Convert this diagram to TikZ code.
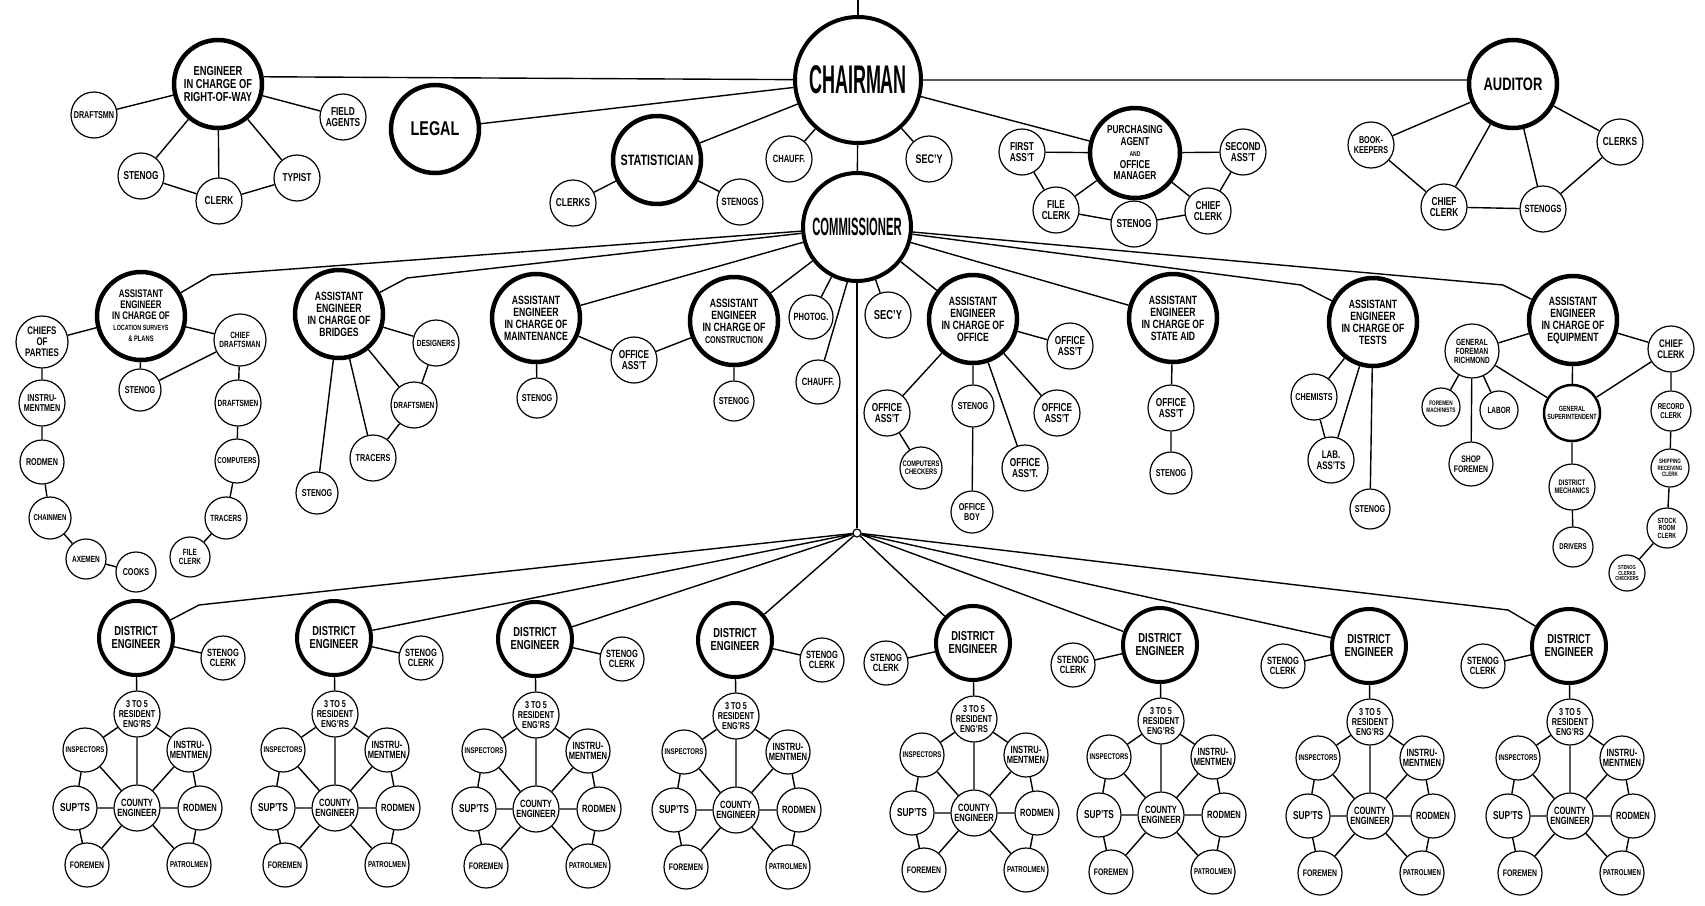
\documentclass[tikz,border=0pt]{standalone}
\usepackage{fontspec}
\setmainfont{Liberation Sans}[FakeStretch=0.72]
\newfontfamily\tallfont{Liberation Sans}[FakeStretch=0.45]
\newcommand\fs[1]{\bfseries\fontsize{#1}{#1}\selectfont}

\begin{document}
\begin{tikzpicture}[
  x=1pt, y=-1pt,
  unit/.style={circle, draw, fill=white, line width=1.2pt, inner sep=0pt, align=center, minimum size=#1, font=\fs{10}},
  unit/.default=44pt,
  upper/.style={unit=46pt, font=\fs{11.5}},
  lower/.style={unit=#1, font=\fs{10}},
  lower/.default=44pt,
  chief/.style={circle, draw, fill=white, line width=4.5pt, inner sep=0pt, align=center, minimum size=#1, font=\fs{12}},
  chief/.default=88pt,
  dist/.style={circle, draw, fill=white, line width=4pt, inner sep=0pt, align=center, minimum size=74pt, font=\fs{13}},
  head/.style={circle, draw, fill=white, line width=4pt, inner sep=0pt, minimum size=#1, font=\tallfont\bfseries},
  link/.style={line width=1.4pt}
]
  \useasboundingbox (0,0) rectangle (1705,905);
  \fill[white] (0,0) rectangle (1705,905);

  % Chairman and his staff
  \coordinate (top) at (858,0);
  \node[head=126pt, font=\tallfont\fs{40}] (chair) at (858,80) {CHAIRMAN};
  \node[chief, font=\fs{13}] (row) at (218,84) {ENGINEER\\IN CHARGE OF\\RIGHT-OF-WAY};
  \node[upper, font=\fs{10}] (row_draft) at (94,115) {DRAFTSMN};
  \node[upper] (row_field) at (343,117) {FIELD\\AGENTS};
  \node[upper] (row_stenog) at (141,176) {STENOG};
  \node[upper] (row_clerk) at (219,201) {CLERK};
  \node[upper] (row_typist) at (297,178) {TYPIST};
  \node[chief, font=\fs{20}] (legal) at (435,129) {LEGAL};
  \node[chief, font=\fs{15}] (stat) at (657,160) {STATISTICIAN};
  \node[upper] (stat_clerks) at (573,203) {CLERKS};
  \node[upper, font=\fs{10.5}] (stat_stenogs) at (740,202) {STENOGS};
  \node[upper, font=\fs{10.5}] (chauff) at (789,159) {CHAUFF.};
  \node[upper, font=\fs{12.5}] (secy) at (929,159) {SEC'Y};
  \node[chief=90pt, font=\fs{11.5}] (purch) at (1135,153) {PURCHASING\\AGENT\\{\fs{7}AND}\\OFFICE\\MANAGER};
  \node[upper] (purch_first) at (1022,152) {FIRST\\ASS'T};
  \node[upper] (purch_second) at (1243,152) {SECOND\\ASS'T};
  \node[upper] (purch_file) at (1056,210) {FILE\\CLERK};
  \node[upper] (purch_stenog) at (1134,224) {STENOG};
  \node[upper] (purch_chief) at (1208,211) {CHIEF\\CLERK};
  \node[chief, font=\fs{18}] (aud) at (1513,84) {AUDITOR};
  \node[upper, font=\fs{10}] (aud_book) at (1371,145) {BOOK-\\KEEPERS};
  \node[upper] (aud_clerks) at (1620,142) {CLERKS};
  \node[upper] (aud_chief) at (1444,207) {CHIEF\\CLERK};
  \node[upper, font=\fs{10.5}] (aud_stenogs) at (1543,209) {STENOGS};
  \node[head=108pt, font=\tallfont\fs{25}] (comm) at (857,227) {COMMISSIONER};

  % Assistant engineers
  \node[chief, font=\fs{11}] (loc) at (141,316) {ASSISTANT\\ENGINEER\\IN CHARGE OF\\{\fs{7.5}LOCATION SURVEYS}\\{\fs{8}\& PLANS}};
  \node[unit=52pt, font=\fs{11}] (loc_chiefs) at (42,342) {CHIEFS\\OF\\PARTIES};
  \node[unit=52pt, font=\fs{9}] (loc_chiefdraft) at (240,340) {CHIEF\\DRAFTSMAN};
  \node[unit=42pt] (loc_stenog) at (140,390) {STENOG};
  \node[unit=46pt] (loc_instr) at (42,403) {INSTRU-\\MENTMEN};
  \node[unit] (loc_rod) at (42,462) {RODMEN};
  \node[unit=42pt, font=\fs{8.5}] (loc_chain) at (50,518) {CHAINMEN};
  \node[unit=40pt, font=\fs{9}] (loc_axe) at (86,559) {AXEMEN};
  \node[unit=40pt] (loc_cooks) at (136,572) {COOKS};
  \node[unit=46pt, font=\fs{9}] (loc_draftsmen) at (238,403) {DRAFTSMEN};
  \node[unit, font=\fs{8.5}] (loc_comp) at (237,461) {COMPUTERS};
  \node[unit=42pt, font=\fs{9}] (loc_tracers) at (226,518) {TRACERS};
  \node[unit=40pt, font=\fs{9}] (loc_file) at (190,557) {FILE\\CLERK};

  \node[chief] (bridges) at (339,314) {ASSISTANT\\ENGINEER\\IN CHARGE OF\\BRIDGES};
  \node[unit=46pt, font=\fs{9}] (br_design) at (436,343) {DESIGNERS};
  \node[unit=46pt, font=\fs{9}] (br_draft) at (414,405) {DRAFTSMEN};
  \node[unit=46pt] (br_tracers) at (373,458) {TRACERS};
  \node[unit=42pt] (br_stenog) at (317,493) {STENOG};

  \node[chief] (maint) at (536,318) {ASSISTANT\\ENGINEER\\IN CHARGE OF\\MAINTENANCE};
  \node[unit=40pt] (maint_stenog) at (537,398) {STENOG};
  \node[unit=46pt, font=\fs{11.5}] (maint_asst) at (634,360) {OFFICE\\ASS'T};
  \node[chief] (constr) at (734,321) {ASSISTANT\\ENGINEER\\IN CHARGE OF\\{\fs{10}CONSTRUCTION}};
  \node[unit=40pt] (constr_stenog) at (734,401) {STENOG};
  \node[unit, font=\fs{10.5}] (photog) at (811,317) {PHOTOG.};
  \node[unit, font=\fs{10.5}] (chauff_b) at (818,382) {CHAUFF.};
  \node[unit=46pt, font=\fs{13}] (secy_b) at (888,315) {SEC'Y};

  \node[chief] (office) at (973,319) {ASSISTANT\\ENGINEER\\IN CHARGE OF\\OFFICE};
  \node[unit=46pt, font=\fs{11.5}] (off_asst_a) at (1070,346) {OFFICE\\ASS'T};
  \node[unit=46pt, font=\fs{11.5}] (off_asst_b) at (887,413) {OFFICE\\ASS'T};
  \node[unit=42pt] (off_stenog) at (973,406) {STENOG};
  \node[unit=46pt, font=\fs{11.5}] (off_asst_c) at (1057,413) {OFFICE\\ASS'T};
  \node[unit=42pt, font=\fs{8}] (off_comp) at (921,468) {COMPUTERS\\CHECKERS};
  \node[unit=46pt, font=\fs{11.5}] (off_asst_d) at (1025,468) {OFFICE\\ASS'T.};
  \node[unit=42pt] (off_boy) at (972,512) {OFFICE\\BOY};

  \node[chief] (state) at (1173,318) {ASSISTANT\\ENGINEER\\IN CHARGE OF\\STATE AID};
  \node[unit=46pt, font=\fs{11.5}] (state_asst) at (1171,408) {OFFICE\\ASS'T};
  \node[unit=42pt] (state_stenog) at (1171,473) {STENOG};

  \node[chief] (tests) at (1373,322) {ASSISTANT\\ENGINEER\\IN CHARGE OF\\TESTS};
  \node[unit=46pt] (tests_chem) at (1314,397) {CHEMISTS};
  \node[unit=46pt, font=\fs{11}] (tests_lab) at (1331,460) {LAB.\\ASS'TS};
  \node[unit=40pt] (tests_stenog) at (1370,509) {STENOG};

  \node[chief] (equip) at (1573,320) {ASSISTANT\\ENGINEER\\IN CHARGE OF\\EQUIPMENT};
  \node[unit=54pt, font=\fs{9}] (eq_foreman) at (1472,351) {GENERAL\\FOREMAN\\RICHMOND};
  \node[unit=46pt, font=\fs{11}] (eq_chief) at (1671,349) {CHIEF\\CLERK};
  \node[unit=38pt, font=\fs{6.5}] (eq_mach) at (1441,407) {FOREMEN\\MACHINISTS};
  \node[unit=38pt, font=\fs{9}] (eq_labor) at (1499,410) {LABOR};
  \node[unit=44pt, font=\fs{9.5}] (eq_shop) at (1471,464) {SHOP\\FOREMEN};
  \node[unit=56pt, line width=2.5pt, font=\fs{7.5}] (eq_supt) at (1572,413) {GENERAL\\SUPERINTENDENT};
  \node[unit=40pt, font=\fs{8.5}] (eq_record) at (1671,411) {RECORD\\CLERK};
  \node[unit=46pt, font=\fs{8}] (eq_mech) at (1572,487) {DISTRICT\\MECHANICS};
  \node[unit=40pt, font=\fs{8.5}] (eq_drivers) at (1573,547) {DRIVERS};
  \node[unit=38pt, font=\fs{6.3}] (eq_ship) at (1670,468) {SHIPPING\\RECEIVING\\CLERK};
  \node[unit=40pt, font=\fs{7.5}] (eq_stock) at (1667,528) {STOCK\\ROOM\\CLERK};
  \node[unit=36pt, font=\fs{5.8}] (eq_stenog) at (1627,573) {STENOG\\CLERKS\\CHECKERS};

  % Districts
  \node[circle, draw, fill=white, line width=1.2pt, inner sep=0pt, minimum size=8pt] (hub) at (857,533) {};
  \foreach \grp/\px/\py/\cx in {1/136/638/223, 2/334/638/421, 3/535/639/622, 4/735/640/822,
                               5/973/643/886, 6/1160/645/1073, 7/1369/646/1283, 8/1569/646/1483}{
    \node[dist] (de\grp) at (\px,\py) {DISTRICT\\ENGINEER};
    \node[lower, font=\fs{10.5}] (de\grp_clerk) at (\cx,\py+20) {STENOG\\CLERK};
    \node[lower=46pt] (de\grp_res) at (\px+1,\py+76) {3 TO 5\\RESIDENT\\ENG'RS};
    \node[lower, font=\fs{8.3}] (de\grp_insp) at (\px-51,\py+112) {INSPECTORS};
    \node[lower, font=\fs{10.5}] (de\grp_instr) at (\px+53,\py+112) {INSTRU-\\MENTMEN};
    \node[lower, font=\fs{11.5}] (de\grp_supts) at (\px-61,\py+170) {SUP'TS};
    \node[lower=46pt, font=\fs{10.5}] (de\grp_county) at (\px+1,\py+170) {COUNTY\\ENGINEER};
    \node[lower, font=\fs{10.5}] (de\grp_rod) at (\px+64,\py+170) {RODMEN};
    \node[lower, font=\fs{9.5}] (de\grp_fore) at (\px-49,\py+227) {FOREMEN};
    \node[lower, font=\fs{8.5}] (de\grp_patrol) at (\px+53,\py+227) {PATROLMEN};
    \draw[link] (de\grp) -- (de\grp_clerk) (de\grp) -- (de\grp_res)
      (de\grp_res) -- (de\grp_insp) (de\grp_res) -- (de\grp_instr) (de\grp_res) -- (de\grp_county)
      (de\grp_insp) -- (de\grp_supts) (de\grp_insp) -- (de\grp_county)
      (de\grp_instr) -- (de\grp_county) (de\grp_instr) -- (de\grp_rod)
      (de\grp_supts) -- (de\grp_county) (de\grp_county) -- (de\grp_rod)
      (de\grp_supts) -- (de\grp_fore) (de\grp_fore) -- (de\grp_county)
      (de\grp_county) -- (de\grp_patrol) (de\grp_rod) -- (de\grp_patrol);
  }

  % Bends of the long connectors
  \coordinate (bend_loc) at (211,275);
  \coordinate (bend_br) at (407,278);
  \coordinate (bend_tests) at (1301,285);
  \coordinate (bend_equip) at (1503,285);
  \coordinate (bend_de1) at (199,605);
  \coordinate (bend_de8) at (1508,610);

  % Chairman connectors
  \draw[link] (top) -- (chair);
  \draw[link] (chair) -- (row.9) (chair) -- (aud.175) (chair) -- (legal) (chair) -- (stat)
    (chair) -- (chauff) (chair) -- (secy) (chair) -- (purch) (chair) -- (comm);
  \draw[link] (row) -- (row_draft) (row) -- (row_field) (row) -- (row_stenog) (row) -- (row_clerk)
    (row) -- (row_typist) (row_stenog) -- (row_clerk) -- (row_typist);
  \draw[link] (stat) -- (stat_clerks) (stat) -- (stat_stenogs);
  \draw[link] (purch) -- (purch_first) (purch) -- (purch_second) (purch) -- (purch_file)
    (purch) -- (purch_stenog) (purch) -- (purch_chief)
    (purch_first) -- (purch_file) -- (purch_stenog) -- (purch_chief) -- (purch_second);
  \draw[link] (aud) -- (aud_book) (aud) -- (aud_chief) (aud) -- (aud_stenogs) (aud) -- (aud_clerks)
    (aud_book) -- (aud_chief) -- (aud_stenogs) -- (aud_clerks);

  % Commissioner connectors
  \draw[link] (comm) -- (bend_loc) -- (loc);
  \draw[link] (comm) -- (bend_br) -- (bridges);
  \draw[link] (comm) -- (maint) (comm) -- (constr) (comm) -- (photog) (comm.260) -- (chauff_b)
    (comm) -- (secy_b) (comm) -- (office) (comm) -- (state);
  \draw[link] (comm) -- (bend_tests) -- (tests);
  \draw[link] (comm) -- (bend_equip) -- (equip);
  \draw[link] (loc) -- (loc_chiefs) (loc) -- (loc_chiefdraft) (loc) -- (loc_stenog) (loc_chiefdraft) -- (loc_stenog);
  \draw[link] (loc_chiefs) -- (loc_instr) -- (loc_rod) -- (loc_chain) -- (loc_axe) -- (loc_cooks);
  \draw[link] (loc_chiefdraft) -- (loc_draftsmen) -- (loc_comp) -- (loc_tracers) -- (loc_file);
  \draw[link] (bridges) -- (br_design) (bridges) -- (br_draft) (bridges) -- (br_tracers)
    (bridges) -- (br_stenog) (br_design) -- (br_draft) -- (br_tracers);
  \draw[link] (maint) -- (maint_stenog) (maint) -- (maint_asst) -- (constr) (constr) -- (constr_stenog);
  \draw[link] (office) -- (off_asst_a) (office) -- (off_asst_b) (office) -- (off_stenog)
    (office) -- (off_asst_c) (office) -- (off_asst_d) (off_asst_b) -- (off_comp) (off_stenog) -- (off_boy);
  \draw[link] (state) -- (state_asst) -- (state_stenog);
  \draw[link] (tests) -- (tests_chem) (tests) -- (tests_lab) (tests) -- (tests_stenog) (tests_chem) -- (tests_lab);
  \draw[link] (equip) -- (eq_foreman) (equip) -- (eq_chief) (equip) -- (eq_supt)
    (eq_foreman) -- (eq_mach) (eq_foreman) -- (eq_labor) (eq_foreman) -- (eq_shop) (eq_foreman) -- (eq_supt)
    (eq_chief) -- (eq_supt) (eq_chief) -- (eq_record) -- (eq_ship) -- (eq_stock) -- (eq_stenog)
    (eq_supt) -- (eq_mech) -- (eq_drivers);

  % District connectors
  \draw[link] (comm) -- (hub);
  \draw[link] (hub) -- (bend_de1) -- (de1);
  \draw[link] (hub) -- (de2) (hub) -- (de3) (hub) -- (de4) (hub) -- (de5) (hub) -- (de6) (hub) -- (de7);
  \draw[link] (hub) -- (bend_de8) -- (de8);
\end{tikzpicture}
\end{document}
